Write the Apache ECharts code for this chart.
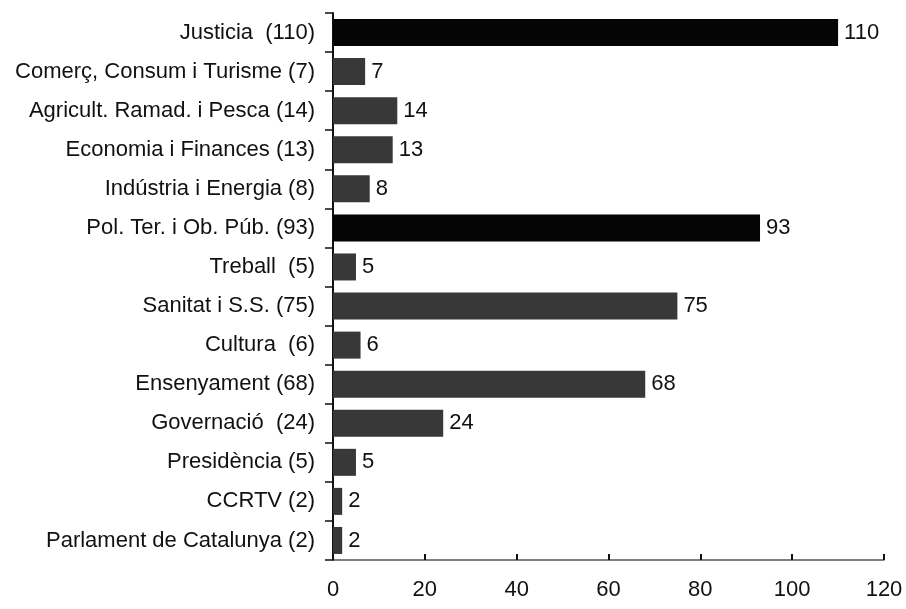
<!DOCTYPE html>
<html>
<head>
<meta charset="utf-8">
<script src="https://cdn.jsdelivr.net/npm/echarts@6/dist/echarts.min.js"></script>
<style>
html,body{margin:0;padding:0;background:#fff;}
#chart{width:906px;height:609px;}
</style>
</head>
<body>
<div id="chart"></div>
<script>
var categories=['Justicia  (110)','Comerç, Consum i Turisme (7)','Agricult. Ramad. i Pesca (14)','Economia i Finances (13)','Indústria i Energia (8)','Pol. Ter. i Ob. Púb. (93)','Treball  (5)','Sanitat i S.S. (75)','Cultura  (6)','Ensenyament (68)','Governació  (24)','Presidència (5)','CCRTV (2)','Parlament de Catalunya (2)'];
var values=[110,7,14,13,8,93,5,75,6,68,24,5,2,2];
var darkBars=[0,5]; // the two black ones
var xTicks={min:0,max:120,interval:20};

var font='"Liberation Sans",Arial,sans-serif';
var chart=echarts.init(document.getElementById('chart'));
var data=values.map(function(v,i){
    return {value:v,itemStyle:{color:darkBars.indexOf(i)>=0?'#050505':'#383838'}};
});
var option={
    backgroundColor:'#fff',
    animation:false,
    grid:{left:333,right:22,top:13,bottom:49,containLabel:false},
    xAxis:{
        type:'value',
        min:xTicks.min,max:xTicks.max,interval:xTicks.interval,
        axisLine:{show:true,lineStyle:{color:'#555',width:1.5}},
        axisTick:{show:true,inside:true,length:6,lineStyle:{color:'#111',width:2}},
        splitLine:{show:false},
        axisLabel:{color:'#111',fontSize:22,fontFamily:font,margin:19}
    },
    yAxis:{
        type:'category',
        inverse:true,
        data:categories,
        axisLine:{lineStyle:{color:'#111',width:2}},
        axisTick:{show:true,length:8,lineStyle:{color:'#111',width:1.5}},
        axisLabel:{color:'#111',fontSize:22,fontFamily:font,margin:18}
    },
    series:[{
        type:'bar',
        data:data,
        barWidth:27,
        label:{show:true,position:'right',distance:6,color:'#111',fontSize:22,fontFamily:font}
    }]
};
chart.setOption(option);
</script>
</body>
</html>
